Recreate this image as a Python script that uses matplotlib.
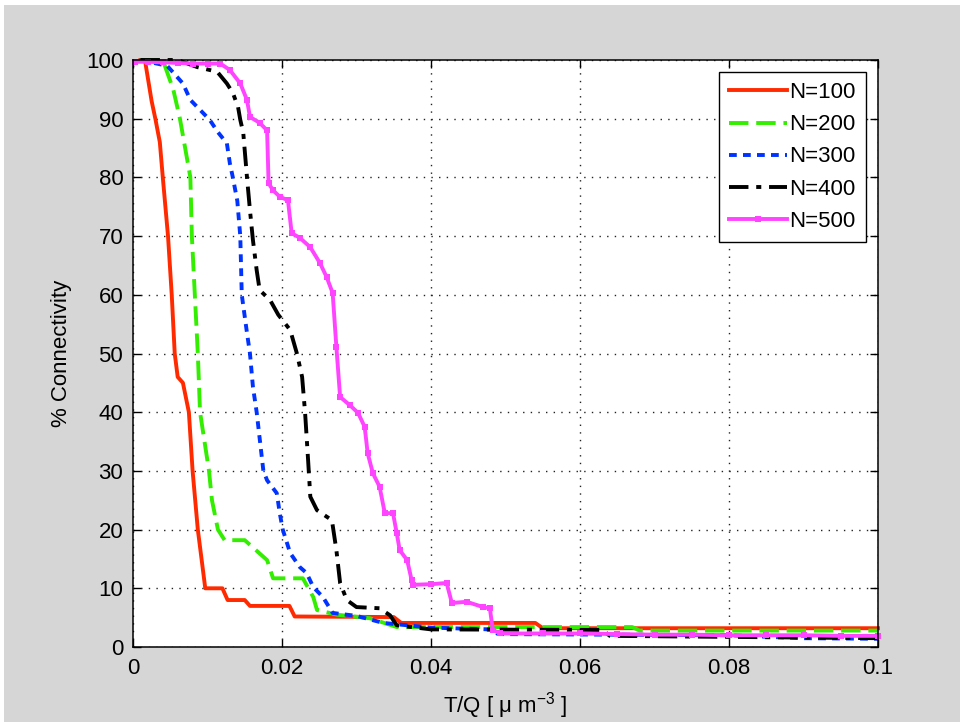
import matplotlib
matplotlib.use("Agg")
import matplotlib.pyplot as plt
import matplotlib.patches as mpatches

plt.rcParams['font.family'] = ['Liberation Sans', 'DejaVu Sans']
plt.rcParams['mathtext.default'] = 'regular'

# curves (x in T/Q, y in % connectivity)
x_100 = [0.0010, 0.0016, 0.0025, 0.0030, 0.0036, 0.0040, 0.0047, 0.0052, 0.0056, 0.0060,
         0.0067, 0.0075, 0.0080, 0.0087, 0.0097, 0.0120, 0.0127, 0.0150, 0.0157, 0.0210,
         0.0217, 0.0350, 0.0360, 0.0540, 0.0550, 0.1000]
y_100 = [100, 100, 93, 90, 86, 80, 70, 60, 50, 46,
         45, 40, 30, 20, 10, 10, 8, 8, 7, 7,
         5.2, 5.1, 4.1, 4.1, 3.2, 3.2]

x_200 = [0.0010, 0.0040, 0.0054, 0.0063, 0.0070, 0.0077, 0.0079, 0.0083, 0.0087, 0.0090,
         0.0102, 0.0106, 0.0114, 0.0123, 0.0150, 0.0165, 0.0180, 0.0188, 0.0228, 0.0242,
         0.0247, 0.0274, 0.0318, 0.0354, 0.0670, 0.0680, 0.1000]
y_200 = [100, 100, 95, 90, 85, 80, 70, 60, 50, 40,
         30, 25, 20, 18.2, 18.2, 16.5, 14.8, 11.7, 11.7, 8.5,
         6.3, 5.5, 4.9, 3.4, 3.4, 2.8, 2.8]

x_300 = [0.0010, 0.0046, 0.0067, 0.0077, 0.0090, 0.0103, 0.0114, 0.0126, 0.0130, 0.0134,
         0.0140, 0.0144, 0.0146, 0.0153, 0.0157, 0.0161, 0.0166, 0.0175, 0.0180, 0.0193,
         0.0197, 0.0201, 0.0211, 0.0224, 0.0233, 0.0242, 0.0255, 0.0268, 0.0300, 0.0336,
         0.0400, 0.0480, 0.0490, 0.0800, 0.0900, 0.1000]
y_300 = [100, 99, 96, 93.2, 91.5, 89.8, 87.7, 85.8, 82.4, 80,
         76, 70, 60, 53.5, 50, 44.3, 40, 30, 28.4, 26.2,
         22.8, 20, 16, 13.6, 12.6, 10.2, 8.5, 5.8, 5.3, 4.1,
         3.3, 3.0, 2.2, 2.0, 1.5, 1.4]

x_400 = [0.0010, 0.0060, 0.0086, 0.0113, 0.0126, 0.0134, 0.0141, 0.0144, 0.0148, 0.0153,
         0.0157, 0.0161, 0.0166, 0.0170, 0.0184, 0.0195, 0.0211, 0.0220, 0.0227, 0.0231,
         0.0235, 0.0238, 0.0247, 0.0267, 0.0273, 0.0278, 0.0287, 0.0300, 0.0331, 0.0345,
         0.0354, 0.0400, 0.0630, 0.0640, 0.1000]
y_400 = [100, 100, 98.8, 98, 96, 94.4, 92, 89.8, 87.6, 80,
         74.4, 69.3, 64.2, 60.8, 59.1, 56.6, 54, 50, 46, 39.9,
         31.9, 25.6, 23.3, 21.6, 16.5, 10.9, 8, 6.8, 6.6, 5.4,
         3.7, 3.0, 2.9, 1.9, 1.5]

x_500 = [0.0003, 0.0020, 0.0040, 0.0060, 0.0080, 0.0100, 0.0117, 0.0130, 0.0144, 0.0153,
         0.0157, 0.0170, 0.0180, 0.0182, 0.0188, 0.0197, 0.0208, 0.0213, 0.0224, 0.0238,
         0.0251, 0.0260, 0.0268, 0.0273, 0.0278, 0.0291, 0.0302, 0.0311, 0.0315, 0.0322,
         0.0331, 0.0338, 0.0349, 0.0354, 0.0358, 0.0368, 0.0374, 0.0376, 0.0400, 0.0421,
         0.0428, 0.0448, 0.0470, 0.0479, 0.0483, 0.0493, 0.0550, 0.0600, 0.0650, 0.0700,
         0.0750, 0.0800, 0.0850, 0.0900, 0.0950, 0.1000]
y_500 = [99.7, 99.7, 99.6, 99.5, 99.4, 99.4, 99.4, 98.3, 96, 93.2,
         90.3, 89.3, 88, 79, 77.8, 76.7, 76.1, 70.5, 69.7, 68.1,
         65.4, 63, 60.3, 51.1, 42.6, 41.2, 39.9, 37.5, 33, 29.6,
         27.3, 22.8, 22.8, 19.4, 16.5, 14.8, 11.4, 10.6, 10.7, 10.9,
         7.5, 7.7, 6.8, 6.6, 2.9, 2.3, 2.3, 2.3, 2.2, 2.1,
         2.1, 2.0, 2.0, 2.0, 1.9, 1.9]

x_ticks = [0, 0.02, 0.04, 0.06, 0.08, 0.1]
x_ticklabels = ['0', '0.02', '0.04', '0.06', '0.08', '0.1']
y_ticks = list(range(0, 101, 10))

fs = 16

fig = plt.figure(figsize=(9.6, 7.22), dpi=100, facecolor='#d6d6d6')
# white screenshot edges
fig.patches.append(mpatches.Rectangle((0, 1 - 5 / 722), 1, 5 / 722, transform=fig.transFigure,
                                      facecolor='white', edgecolor='none', zorder=-1))
fig.patches.append(mpatches.Rectangle((0, 0), 4 / 960, 1, transform=fig.transFigure,
                                      facecolor='white', edgecolor='none', zorder=-1))

ax = fig.add_axes([133 / 960, 75 / 722, 745 / 960, 587 / 722])
ax.set_facecolor('white')

lw = 2.8
ax.plot(x_100, y_100, color='#ff2a00', lw=lw, ls='-', label='N=100', clip_on=False)
ax.plot(x_200, y_200, color='#33ee00', lw=lw, ls=(0, (5, 2)), label='N=200', clip_on=False)
ax.plot(x_300, y_300, color='#0033ff', lw=lw, ls=(0, (2, 1.6)), label='N=300', clip_on=False)
ax.plot(x_400, y_400, color='black', lw=lw, ls=(0, (5, 2, 1.3, 2)), label='N=400', clip_on=False)
ax.plot(x_500, y_500, color='#ff44ff', lw=lw, ls='-', marker='s', markersize=4,
        markeredgewidth=0, label='N=500', clip_on=False)

ax.set_xlim(0, 0.1)
ax.set_ylim(0, 100)
ax.set_xticks(x_ticks)
ax.set_xticklabels(x_ticklabels)
ax.set_yticks(y_ticks)

ax.grid(True, color='#222222', lw=1.0, ls=(0, (1, 4.5)))
ax.tick_params(direction='in', length=5.5, width=1, top=True, right=True,
               labelsize=fs, colors='black', pad=7)
ax.tick_params(axis='x', pad=8)
for sp in ax.spines.values():
    sp.set_linewidth(1.1)
    sp.set_color('black')

ax.set_xlabel('T/Q [ μ m$^{-3}$ ]', fontsize=fs, labelpad=8)
ax.set_ylabel('% Connectivity', fontsize=fs, labelpad=10)

leg = ax.legend(loc='upper right', fontsize=fs, fancybox=False, framealpha=1,
                edgecolor='black', handlelength=2.6, handletextpad=0.1,
                labelspacing=0.5, borderaxespad=0.55, numpoints=1, borderpad=0.45)
leg.get_frame().set_linewidth(1.0)

fig.savefig('out.png', dpi=100, facecolor=fig.get_facecolor())
